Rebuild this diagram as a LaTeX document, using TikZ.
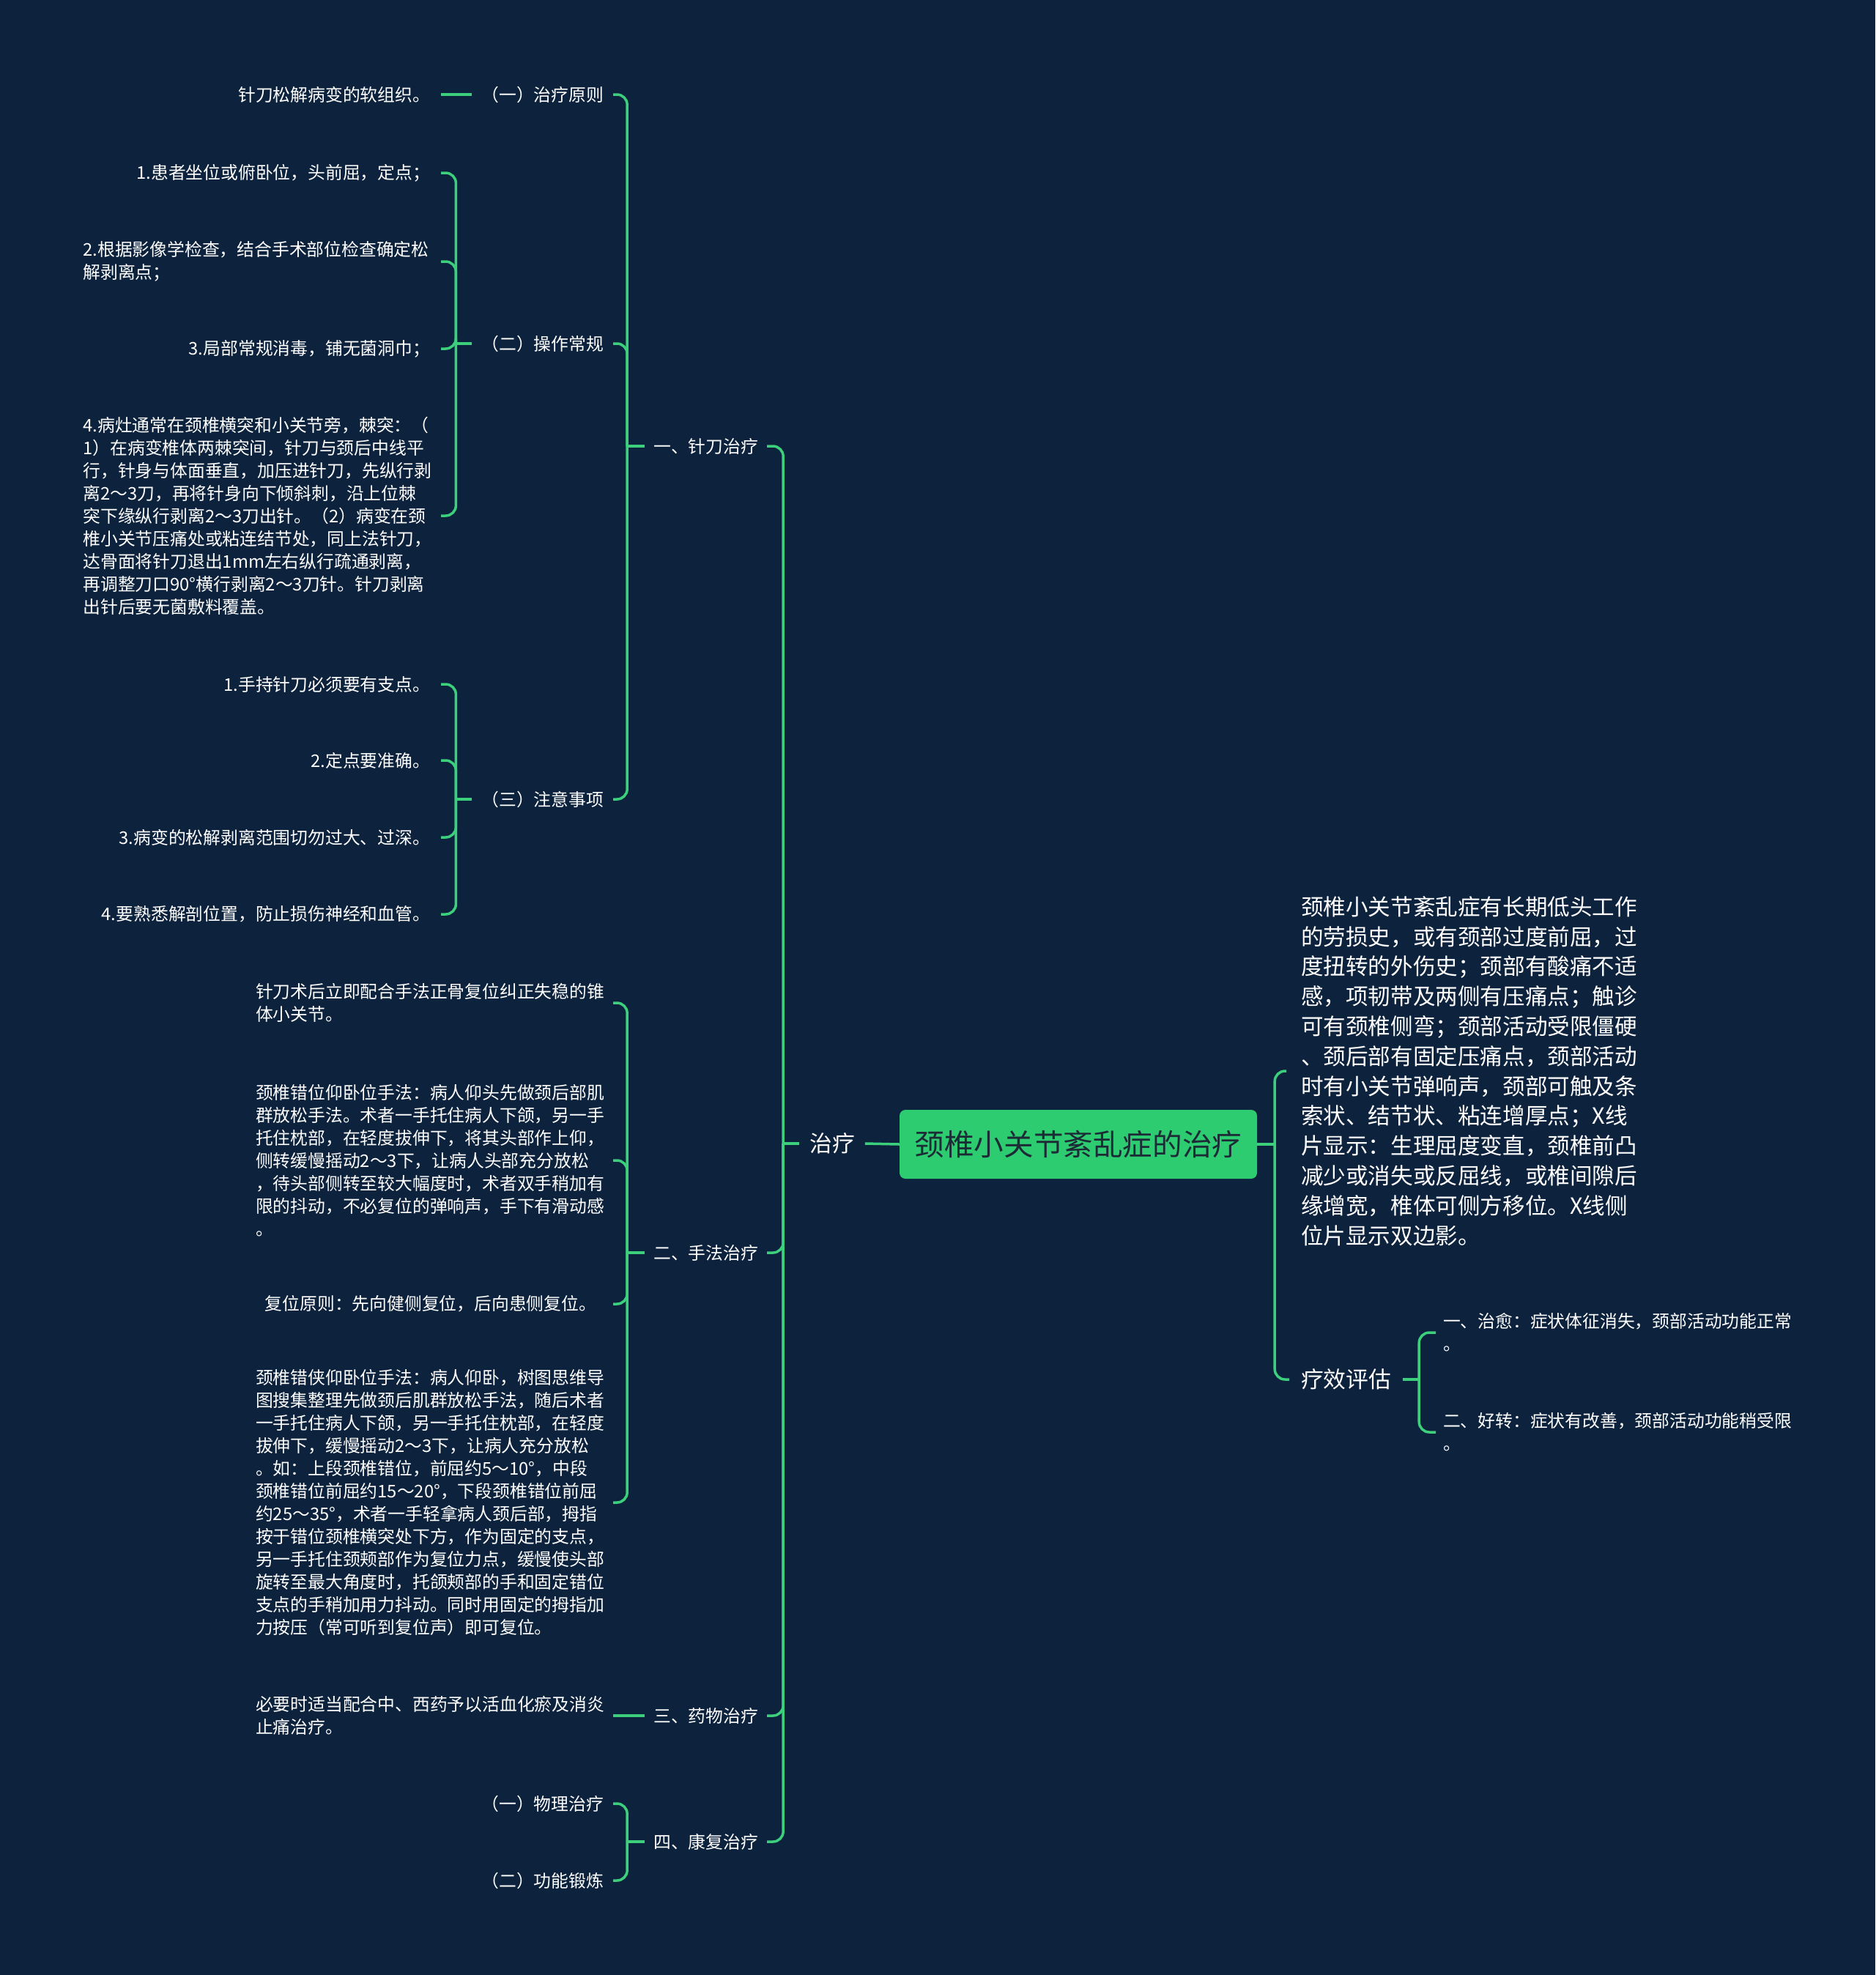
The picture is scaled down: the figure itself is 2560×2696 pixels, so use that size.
\documentclass[tikz,border=0pt]{standalone}
\usepackage{fontspec}
\newfontfamily\cjk{Noto Sans CJK SC}
\definecolor{bg}{HTML}{0C223D}
\definecolor{ln}{HTML}{3CCF7C}
\definecolor{cf}{HTML}{2ECC71}
\definecolor{ct}{HTML}{1C2B36}
\tikzset{
  base/.style={text=white, inner ysep=2pt, outer sep=0pt},
  smallfont/.style={font=\cjk\fontsize{23.8}{31}\selectfont},
  l1/.style={base, smallfont, anchor=east, inner xsep=12pt},
  l2/.style={base, smallfont, anchor=east, inner xsep=13pt},
  l3/.style={base, smallfont, anchor=east, inner xsep=15pt},
  l3w/.style={base, smallfont, anchor=west, inner xsep=10pt, text width=478.5pt, align=left},
  l2w/.style={base, smallfont, anchor=west, inner xsep=10pt, text width=478pt, align=left},
  l2c/.style={base, smallfont, anchor=west, inner xsep=10pt, text width=478pt, align=center},
  rw/.style={base, smallfont, anchor=west, inner xsep=10pt, align=left},
  mid/.style={base, font=\cjk\fontsize{30.8}{40}\selectfont},
  para/.style={base, anchor=west, inner xsep=20pt, text width=470pt, align=left, font=\cjk\fontsize{30.6}{40.8}\selectfont},
  cnode/.style={fill=cf, text=ct, rounded corners=8pt, minimum width=488pt, minimum height=94pt, inner sep=0pt, font=\cjk\fontsize{40.6}{48}\selectfont},
  stub/.style={draw=ln, line width=3.5pt},
  conn/.style={draw=ln, line width=3.5pt, rounded corners=14pt}
}
\begin{document}
\begin{tikzpicture}[x=1pt,y=-1pt]
\fill[bg] (0,0) rectangle (2560,2696);
\path[use as bounding box] (0,0) rectangle (2560,2696);

% center and first level
\node[cnode] (c) at (1472,1562) {颈椎小关节紊乱症的治疗};
\node[mid, inner xsep=14pt] (zl) at (1136,1561) {治疗};

\node[l1] (a1) at (1047,609) {一、针刀治疗};
\node[l1] (a2) at (1047,1710) {二、手法治疗};
\node[l1] (a3) at (1047,2342) {三、药物治疗};
\node[l1] (a4) at (1047,2514) {四、康复治疗};

% level 2 under 针刀治疗
\node[l2] (b1) at (837,129) {（一）治疗原则};
\node[l2] (b2) at (837,469) {（二）操作常规};
\node[l2] (b3) at (837,1091) {（三）注意事项};

\node[l3] (b1a) at (602,129) {针刀松解病变的软组织。};

\node[l3] (b2a) at (602,236) {1.患者坐位或俯卧位，头前屈，定点；};
\node[l3w] (b2b) at (103.5,357) {2.根据影像学检查，结合手术部位检查确定松\\解剥离点；};
\node[l3] (b2c) at (602,476) {3.局部常规消毒，铺无菌洞巾；};
\node[l3w] (b2d) at (103.5,704) {4.病灶通常在颈椎横突和小关节旁，棘突：（\\1）在病变椎体两棘突间，针刀与颈后中线平\\行，针身与体面垂直，加压进针刀，先纵行剥\\离2～3刀，再将针身向下倾斜刺，沿上位棘\\突下缘纵行剥离2～3刀出针。（2）病变在颈\\椎小关节压痛处或粘连结节处，同上法针刀，\\达骨面将针刀退出1mm左右纵行疏通剥离，\\再调整刀口90°横行剥离2～3刀针。针刀剥离\\出针后要无菌敷料覆盖。};

\node[l3] (b3a) at (602,934) {1.手持针刀必须要有支点。};
\node[l3] (b3b) at (602,1038) {2.定点要准确。};
\node[l3] (b3c) at (602,1143) {3.病变的松解剥离范围切勿过大、过深。};
\node[l3] (b3d) at (602,1248) {4.要熟悉解剖位置，防止损伤神经和血管。};

% 手法治疗
\node[l2w] (a2a) at (339,1369) {针刀术后立即配合手法正骨复位纠正失稳的锥\\体小关节。};
\node[l2w] (a2b) at (339,1584) {颈椎错位仰卧位手法：病人仰头先做颈后部肌\\群放松手法。术者一手托住病人下颌，另一手\\托住枕部，在轻度拔伸下，将其头部作上仰，\\侧转缓慢摇动2～3下，让病人头部充分放松\\，待头部侧转至较大幅度时，术者双手稍加有\\限的抖动，不必复位的弹响声，手下有滑动感\\。};
\node[l2c] (a2c) at (339,1780) {复位原则：先向健侧复位，后向患侧复位。};
\node[l2w] (a2d) at (339,2051) {颈椎错侠仰卧位手法：病人仰卧，树图思维导\\图搜集整理先做颈后肌群放松手法，随后术者\\一手托住病人下颌，另一手托住枕部，在轻度\\拔伸下，缓慢摇动2～3下，让病人充分放松\\。如：上段颈椎错位，前屈约5～10°，中段\\颈椎错位前屈约15～20°，下段颈椎错位前屈\\约25～35°，术者一手轻拿病人颈后部，拇指\\按于错位颈椎横突处下方，作为固定的支点，\\另一手托住颈颊部作为复位力点，缓慢使头部\\旋转至最大角度时，托颌颊部的手和固定错位\\支点的手稍加用力抖动。同时用固定的拇指加\\力按压（常可听到复位声）即可复位。};

% 药物治疗
\node[l2w] (a3a) at (339,2342) {必要时适当配合中、西药予以活血化瘀及消炎\\止痛治疗。};

% 康复治疗
\node[l2] (d1) at (837,2462) {（一）物理治疗};
\node[l2] (d2) at (837,2567) {（二）功能锻炼};

% right side
\node[para] (r1) at (1756,1462) {颈椎小关节紊乱症有长期低头工作\\的劳损史，或有颈部过度前屈，过\\度扭转的外伤史；颈部有酸痛不适\\感，项韧带及两侧有压痛点；触诊\\可有颈椎侧弯；颈部活动受限僵硬\\、颈后部有固定压痛点，颈部活动\\时有小关节弹响声，颈部可触及条\\索状、结节状、粘连增厚点；X线\\片显示：生理屈度变直，颈椎前凸\\减少或消失或反屈线，或椎间隙后\\缘增宽，椎体可侧方移位。X线侧\\位片显示双边影。};
\node[mid, anchor=west, inner xsep=16pt] (r2) at (1760,1883) {疗效评估};
\node[rw] (r2a) at (1960,1819) {一、治愈：症状体征消失，颈部活动功能正常\\。};
\node[rw] (r2b) at (1960,1955) {二、好转：症状有改善，颈部活动功能稍受限\\。};

% connectors
\draw[stub] (c.west) -- (zl.east);
\draw[stub] (zl.west) -- ++(-22,0) coordinate (zlJ);
\foreach \n in {a1,a2,a3,a4} \draw[conn] (zlJ) |- (\n.east);

\draw[stub] (a1.west) -- ++(-24,0) coordinate (a1J);
\foreach \n in {b1,b2,b3} \draw[conn] (a1J) |- (\n.east);
\draw[stub] (b1.west) -- (b1a.east);
\draw[stub] (b2.west) -- ++(-22,0) coordinate (b2J);
\foreach \n in {b2a,b2b,b2c,b2d} \draw[conn] (b2J) |- (\n.east);
\draw[stub] (b3.west) -- ++(-22,0) coordinate (b3J);
\foreach \n in {b3a,b3b,b3c,b3d} \draw[conn] (b3J) |- (\n.east);

\draw[stub] (a2.west) -- ++(-24,0) coordinate (a2J);
\foreach \n in {a2a,a2b,a2c,a2d} \draw[conn] (a2J) |- (\n.east);
\draw[stub] (a3.west) -- (a3a.east);
\draw[stub] (a4.west) -- ++(-24,0) coordinate (a4J);
\foreach \n in {d1,d2} \draw[conn] (a4J) |- (\n.east);

\draw[stub] (c.east) -- ++(24,0) coordinate (cJ);
\foreach \n in {r1,r2} \draw[conn] (cJ) |- (\n.west);
\draw[stub] (r2.east) -- ++(22,0) coordinate (r2J);
\foreach \n in {r2a,r2b} \draw[conn] (r2J) |- (\n.west);
\end{tikzpicture}
\end{document}
